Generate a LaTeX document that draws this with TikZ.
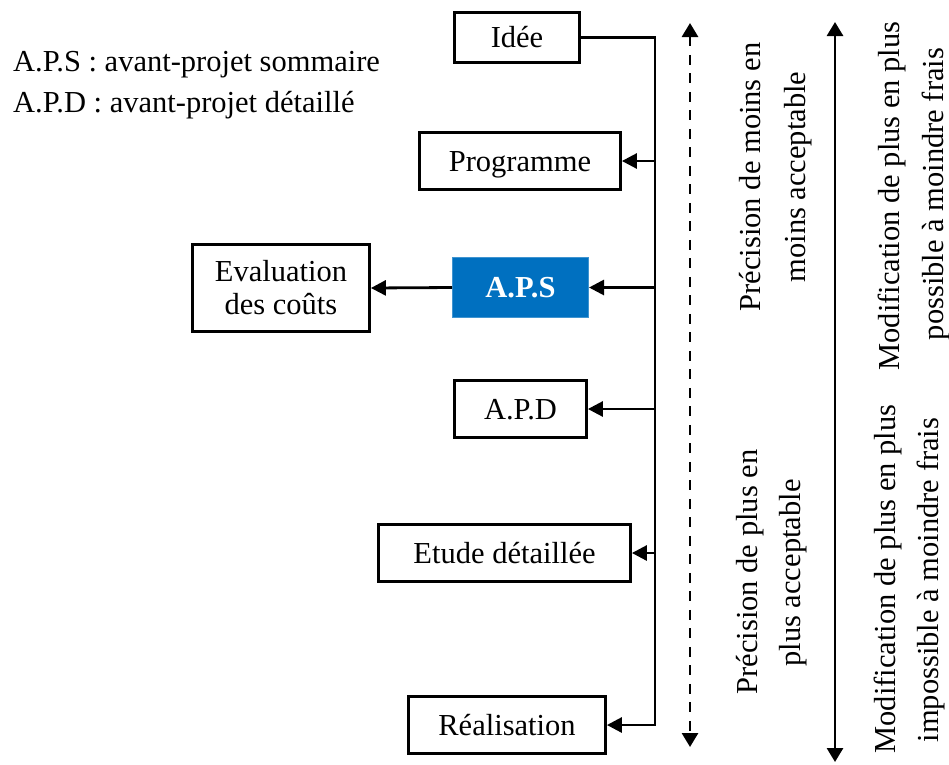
\documentclass[tikz,border=0pt]{standalone}
\usepackage{fontspec}
\setmainfont{Liberation Serif}
\usetikzlibrary{arrows.meta}
\definecolor{apsblue}{HTML}{0070C0}
\begin{document}
\begin{tikzpicture}[x=1pt,y=-1pt,
  every node/.style={font=\fontsize{30.5}{33}\selectfont, inner sep=0pt},
  frame/.style={draw, line width=2.8pt},
  box/.style={frame, text height=20pt, text depth=0pt},
  stage/.style={box, minimum height=57.5pt},
  keybox/.style={draw=apsblue!75!white, fill=apsblue, line width=1pt,
    text=white, font=\fontsize{30.5}{33}\selectfont\bfseries,
    text height=20pt, text depth=0pt},
  conn/.style={line width=2.8pt, line join=miter},
  tip/.style={-{Triangle[length=15pt,width=15pt]}},
  axis/.style={line width=2.8pt, {Triangle[length=14pt,width=16pt]}-{Triangle[length=14pt,width=16pt]}},
  vlabel/.style={rotate=90, anchor=base}
]
\useasboundingbox (0,0) rectangle (949,764);

% legend
\node[anchor=base west] (leg1) at (13,71.5) {A.P.S : avant-projet sommaire};
\node[anchor=base west] (leg2) at (13,112.5) {A.P.D : avant-projet détaillé};

% stages of the project
\node[box, minimum width=125pt, minimum height=50pt] (idee) at (517,37.5) {Idée};
\node[stage, minimum width=201pt] (prog) at (520,161) {Programme};
\node[keybox, minimum width=136pt, minimum height=60pt] (aps) at (520.5,287.5) {A.P.S};
\node[frame, align=center, minimum width=177pt, minimum height=87pt] (eval) at (281,288) {Evaluation\\des coûts};
\node[stage, minimum width=132pt] (apd) at (520.5,409) {A.P.D};
\node[stage, minimum width=252pt] (etude) at (504.5,553) {Etude détaillée};
\node[stage, minimum width=197pt] (real) at (507,725) {Réalisation};

% distribution bus
\coordinate (bus) at (655,0);
\draw[conn, tip] (idee.east) -- (idee.east -| bus) -- (real.east -| bus) -- (real.east);
\draw[conn, tip] (prog.east -| bus) -- (prog.east);
\draw[conn, tip] (aps.east -| bus) -- (aps.east);
\draw[conn, tip] (apd.east -| bus) -- (apd.east);
\draw[conn, tip] (etude.east -| bus) -- (etude.east);
\draw[conn, tip] (aps.west) -- (eval.east);

% precision axis (dashed) and modification axis (solid)
\coordinate (ptop) at (690,23);
\coordinate (pbot) at (690,747);
\draw[axis, dash pattern=on 10pt off 8.5pt] (ptop) -- (pbot);
\coordinate (mtop) at (835,22);
\coordinate (mbot) at (835,762);
\draw[axis] (mtop) -- (mbot);

% axis labels
\node[vlabel] (pa1) at (760,177) {Précision de moins en};
\node[vlabel] (pa2) at (805,177) {moins acceptable};
\node[vlabel] (pb1) at (757,572) {Précision de plus en};
\node[vlabel] (pb2) at (800,573) {plus acceptable};
\node[vlabel] (ma1) at (899,196) {Modification de plus en plus};
\node[vlabel] (ma2) at (943,194) {possible à moindre frais};
\node[vlabel] (mb1) at (895,579) {Modification de plus en plus};
\node[vlabel] (mb2) at (938,580) {impossible à moindre frais};
\end{tikzpicture}
\end{document}
